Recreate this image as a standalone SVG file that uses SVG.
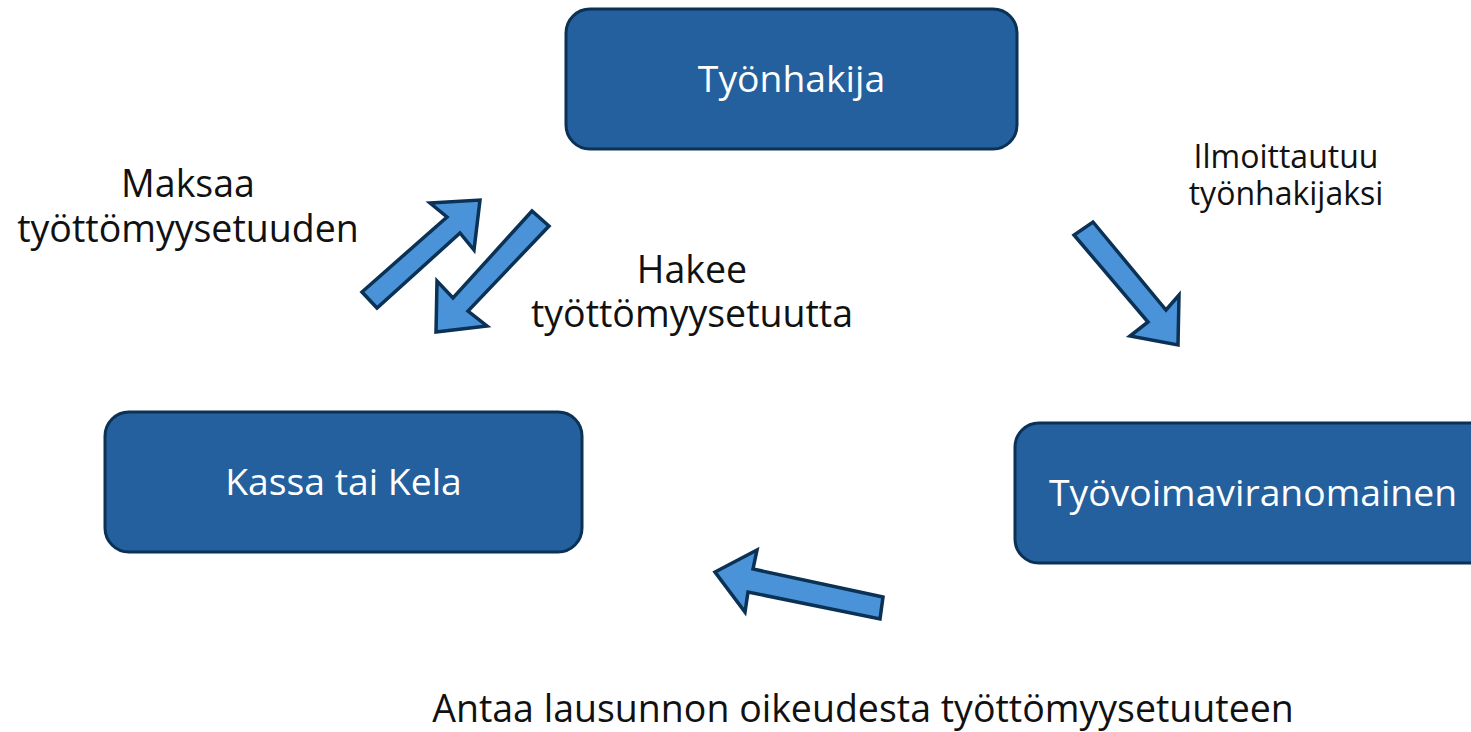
<svg xmlns="http://www.w3.org/2000/svg" width="1471" height="732" viewBox="0 0 1471 732">
<style>
.box{fill:#23609D;stroke:#0B3154;stroke-width:3}
.nt{font-family:"Open Sans","Noto Sans",sans-serif;font-size:37.3px;fill:#FFFFFF;text-anchor:middle}
.lb{font-family:"Open Sans","Noto Sans",sans-serif;font-size:37.5px;fill:#111111;text-anchor:middle}
.ls{font-family:"Open Sans","Noto Sans",sans-serif;font-size:32px;fill:#111111;text-anchor:middle}
.arr{fill:#4A93D8;stroke:#0B3154;stroke-width:3.5;stroke-linejoin:miter}
</style>
<rect width="1471" height="732" fill="#FFFFFF"/>
<g id="node-tyonhakija">
<rect class="box" x="566" y="9" width="451" height="140" rx="24"/>
<text class="nt" x="791.5" y="92">Työnhakija</text>
</g>
<g id="node-kassa">
<rect class="box" x="105" y="412" width="477" height="140" rx="24"/>
<text class="nt" x="343.5" y="495">Kassa tai Kela</text>
</g>
<g id="node-tyovoima">
<rect class="box" x="1015" y="423" width="480" height="140" rx="24"/>
<text class="nt" x="1253" y="506">Työvoimaviranomainen</text>
</g>
<g id="connectors">
<polygon class="arr" points="362,292 447,217 430,203 480,200 474,250 460,233 377,308"/>
<polygon class="arr" points="532,211 453,298 437,281 436,332 487,326 468,311 549,226"/>
<polygon class="arr" points="1093,222 1166,310 1179,295 1178,345 1130,336 1148,322 1074,235"/>
<polygon class="arr" points="883,597 753,569 757,550 715,572 745,612 748,592 880,619"/>
</g>
<g id="labels">
<text class="lb" x="188" y="197"><tspan x="188">Maksaa</tspan><tspan x="188" dy="45">työttömyysetuuden</tspan></text>
<text class="lb" x="692" y="283"><tspan x="692">Hakee</tspan><tspan x="692" dy="44">työttömyysetuutta</tspan></text>
<text class="ls" x="1286" y="168"><tspan x="1286">Ilmoittautuu</tspan><tspan x="1286" dy="37">työnhakijaksi</tspan></text>
<text class="lb" x="863" y="722">Antaa lausunnon oikeudesta työttömyysetuuteen</text>
</g>
</svg>
